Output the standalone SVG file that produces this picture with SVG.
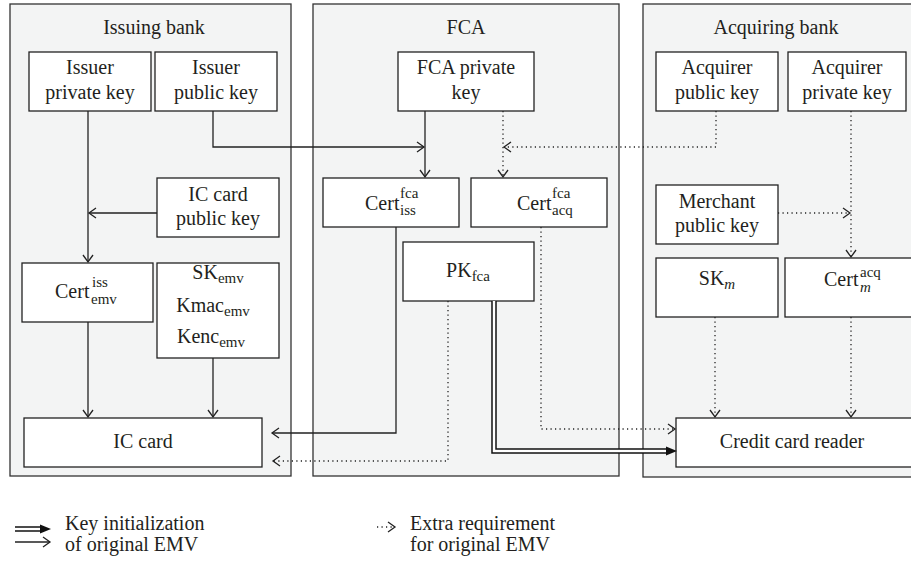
<svg xmlns="http://www.w3.org/2000/svg" width="911" height="563" viewBox="0 0 911 563">
<defs>
<style>
text{font-family:"Liberation Serif","Times New Roman",serif;font-size:20px;fill:#231f20}
.c{text-anchor:middle}
.s{font-size:15px}
.panel{fill:#f3f4f4;stroke:#333;stroke-width:1.3}
.box{fill:#fff;stroke:#222;stroke-width:1.3}
.ln{fill:none;stroke:#222;stroke-width:1.3}
.dt{fill:none;stroke:#222;stroke-width:1.3;stroke-dasharray:1.2 3.3}
</style>
<marker id="oa" viewBox="0 0 10 12" refX="8" refY="6" markerWidth="10" markerHeight="12" markerUnits="userSpaceOnUse" orient="auto">
<path d="M1,1 L8,6 L1,11" fill="none" stroke="#222" stroke-width="1.3"/>
</marker>
<marker id="fa" viewBox="0 0 12 10" refX="11" refY="5" markerWidth="12" markerHeight="10" markerUnits="userSpaceOnUse" orient="auto">
<path d="M0,0.5 L11,5 L0,9.5 z" fill="#111"/>
</marker>
</defs>

<g id="issuing-bank">
<rect class="panel" x="10" y="4" width="281" height="472"/>
<text class="c" x="154" y="34">Issuing bank</text>
</g>
<g id="fca">
<rect class="panel" x="313" y="4" width="306" height="472"/>
<text class="c" x="466" y="34">FCA</text>
</g>
<g id="acquiring-bank">
<rect class="panel" x="643" y="4" width="280" height="473"/>
<text class="c" x="776" y="34">Acquiring bank</text>
</g>

<g id="issuer-private-key">
<rect class="box" x="29" y="52" width="122" height="59"/>
<text class="c" x="90" y="74">Issuer</text>
<text class="c" x="90" y="99">private key</text>
</g>
<g id="issuer-public-key">
<rect class="box" x="155" y="52" width="122" height="59"/>
<text class="c" x="216" y="74">Issuer</text>
<text class="c" x="216" y="99">public key</text>
</g>
<g id="ic-card-public-key">
<rect class="box" x="157" y="178" width="122" height="59"/>
<text class="c" x="218" y="201">IC card</text>
<text class="c" x="218" y="225">public key</text>
</g>
<g id="cert-emv-iss">
<rect class="box" x="22" y="263" width="131" height="59"/>
<text x="55" y="298">Cert</text>
<text class="s" x="92" y="287">iss</text>
<text class="s" x="91" y="304">emv</text>
</g>
<g id="session-keys">
<rect class="box" x="157" y="263" width="122" height="95"/>
<text class="c" x="218" y="279">SK<tspan class="s" dy="4">emv</tspan></text>
<text class="c" x="213" y="312">Kmac<tspan class="s" dy="4">emv</tspan></text>
<text class="c" x="211" y="343">Kenc<tspan class="s" dy="4">emv</tspan></text>
</g>
<g id="ic-card">
<rect class="box" x="24" y="418" width="238" height="49"/>
<text class="c" x="143" y="448">IC card</text>
</g>

<g id="fca-private-key">
<rect class="box" x="398" y="52" width="136" height="59"/>
<text class="c" x="466" y="74">FCA private</text>
<text class="c" x="466" y="99">key</text>
</g>
<g id="cert-iss-fca">
<rect class="box" x="323" y="178" width="136" height="49"/>
<text x="365" y="210">Cert</text>
<text class="s" x="400" y="198">fca</text>
<text class="s" x="400" y="215">iss</text>
</g>
<g id="cert-acq-fca">
<rect class="box" x="471" y="178" width="136" height="49"/>
<text x="517" y="210">Cert</text>
<text class="s" x="552" y="198">fca</text>
<text class="s" x="552" y="215">acq</text>
</g>
<g id="pk-fca">
<rect class="box" x="403" y="242" width="131" height="59"/>
<text class="c" x="468" y="277">PK<tspan class="s" dy="4">fca</tspan></text>
</g>

<g id="acquirer-public-key">
<rect class="box" x="656" y="52" width="122" height="59"/>
<text class="c" x="717" y="74">Acquirer</text>
<text class="c" x="717" y="99">public key</text>
</g>
<g id="acquirer-private-key">
<rect class="box" x="788" y="52" width="118" height="59"/>
<text class="c" x="847" y="74">Acquirer</text>
<text class="c" x="847" y="99">private key</text>
</g>
<g id="merchant-public-key">
<rect class="box" x="656" y="185" width="122" height="59"/>
<text class="c" x="717" y="208">Merchant</text>
<text class="c" x="717" y="232">public key</text>
</g>
<g id="sk-m">
<rect class="box" x="656" y="258" width="122" height="59"/>
<text class="c" x="717" y="285">SK<tspan class="s" dy="4" font-style="italic">m</tspan></text>
</g>
<g id="cert-m-acq">
<rect class="box" x="785" y="258" width="140" height="59"/>
<text x="824" y="286">Cert</text>
<text class="s" x="860" y="277">acq</text>
<text class="s" x="860" y="292" font-style="italic">m</text>
</g>
<g id="credit-card-reader">
<rect class="box" x="676" y="418" width="250" height="49"/>
<text class="c" x="792" y="448">Credit card reader</text>
</g>

<g id="connectors">
<path class="ln" d="M88,111 V262" marker-end="url(#oa)"/>
<path class="ln" d="M157,213 H89" marker-end="url(#oa)"/>
<path class="ln" d="M88,322 V417" marker-end="url(#oa)"/>
<path class="ln" d="M213,358 V417" marker-end="url(#oa)"/>
<path class="ln" d="M213,111 V147 H424" marker-end="url(#oa)"/>
<path class="ln" d="M425,111 V177" marker-end="url(#oa)"/>
<path class="dt" d="M503,111 V177" marker-end="url(#oa)"/>
<path class="dt" d="M716,111 V147 H504" marker-end="url(#oa)"/>
<path class="ln" d="M396,227 V433 H272" marker-end="url(#oa)"/>
<path class="dt" d="M448,301 V461 H273" marker-end="url(#oa)"/>
<path class="dt" d="M541,227 V429 H675" marker-end="url(#oa)"/>
<path d="M494,301 V451 H668" fill="none" stroke="#111" stroke-width="5.5"/>
<path d="M494,301 V451 H670" fill="none" stroke="#fff" stroke-width="2.5"/>
<path d="M666,451 H677" fill="none" stroke="none" marker-end="url(#fa)"/>
<path class="dt" d="M851,111 V257" marker-end="url(#oa)"/>
<path class="dt" d="M778,213 H850" marker-end="url(#oa)"/>
<path class="dt" d="M715,317 V417" marker-end="url(#oa)"/>
<path class="dt" d="M851,317 V417" marker-end="url(#oa)"/>
</g>

<g id="legend">
<path d="M15,529 H44" fill="none" stroke="#111" stroke-width="5.5"/>
<path d="M15,529 H46" fill="none" stroke="#fff" stroke-width="2.5"/>
<path d="M42,529 H51" fill="none" stroke="none" marker-end="url(#fa)"/>
<path class="ln" d="M15,542 H50" marker-end="url(#oa)"/>
<text x="65" y="530">Key initialization</text>
<text x="65" y="551">of original EMV</text>
<path class="dt" d="M377,527 H395" marker-end="url(#oa)"/>
<text x="410" y="530">Extra requirement</text>
<text x="410" y="551">for original EMV</text>
</g>
</svg>
